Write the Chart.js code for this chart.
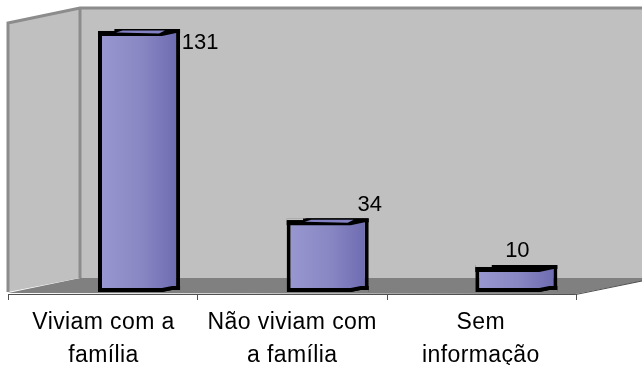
<!DOCTYPE html>
<html>
<head>
<meta charset="utf-8">
<title>Situação familiar</title>
<script src="https://cdn.jsdelivr.net/npm/chart.js@4"></script>
<style>
  html, body { margin: 0; padding: 0; background: #fff; }
  canvas { display: block; }
</style>
</head>
<body>
<canvas id="chart1" width="642" height="365"></canvas>
<script>
var categorias = [['Viviam com a', 'família'], ['Não viviam com', 'a família'], ['Sem', 'informação']]
var valores = [131, 34, 10]

// a caixa 3D fica deslocada em relacao ao plano da frente
var profundidade = 35.5
var fundoEixo = -3.85
var labelDx = [61, 42, 1]
var labelDy = [14, -13, -14]

const caixa3d = {
  id: 'caixa3d',
  beforeDraw(chart) {
    chart.ctx.letterSpacing = '0.4px'
  },
  beforeDatasetsDraw(chart) {
    const ctx = chart.ctx
    const fundoX = 80, frenteX = 8
    const topo = 8, chao = 278, frente = 293
    const passo = 189.3
    const fimX = frenteX + passo * valores.length

    ctx.save()
    // chao
    ctx.fillStyle = '#808080'
    ctx.beginPath()
    ctx.moveTo(frenteX, frente)
    ctx.lineTo(fundoX, chao)
    ctx.lineTo(642, chao)
    ctx.lineTo(642, 281)
    ctx.lineTo(fimX, frente + 1)
    ctx.closePath()
    ctx.fill()

    // parede do fundo e parede lateral
    ctx.fillStyle = '#c0c0c0'
    ctx.fillRect(fundoX, topo, 642 - fundoX, chao - topo)
    ctx.beginPath()
    ctx.moveTo(frenteX, 23)
    ctx.lineTo(fundoX, topo)
    ctx.lineTo(fundoX, chao)
    ctx.lineTo(frenteX, frente - 1)
    ctx.closePath()
    ctx.fill()

    ctx.strokeStyle = '#8c8c8c'
    ctx.lineWidth = 3
    ctx.beginPath()
    ctx.moveTo(frenteX, frente - 1)
    ctx.lineTo(frenteX, 23)
    ctx.lineTo(fundoX, topo)
    ctx.lineTo(642, topo)
    ctx.moveTo(fundoX, topo)
    ctx.lineTo(fundoX, chao)
    ctx.stroke()

    // eixo da frente com os tracos
    ctx.strokeStyle = '#505050'
    ctx.lineWidth = 1
    ctx.beginPath()
    ctx.moveTo(frenteX, frente + 1.5)
    ctx.lineTo(fimX, frente + 1.5)
    ctx.lineTo(642, 281)
    for (var i = 0; i <= valores.length; i++) {
      const x = Math.round(frenteX + passo * i) + 0.5
      ctx.moveTo(x, frente + 1)
      ctx.lineTo(x, frente + 7)
    }
    ctx.stroke()
    ctx.restore()
  },
  afterDatasetsDraw(chart) {
    const ctx = chart.ctx
    const barras = chart.getDatasetMeta(0).data
    ctx.save()
    barras.forEach(function (b, i) {
      const w = b.width
      const esq = b.x - w / 2
      const dir = b.x + w / 2
      const corte = esq + w * 0.78

      // degrau no canto de cima, a esquerda da tampa
      ctx.fillStyle = '#c0c0c0'
      ctx.fillRect(esq, b.y, w * 0.2, 2)

      // faixa preta da tampa, que sobe para a direita
      ctx.fillStyle = '#000'
      ctx.beginPath()
      ctx.moveTo(esq, b.y + 2)
      ctx.lineTo(esq + w * 0.2, b.y + 2)
      ctx.lineTo(esq + w * 0.24, b.y)
      ctx.lineTo(dir, b.y)
      ctx.lineTo(dir, b.y + 4)
      ctx.lineTo(corte + 14, b.y + 4)
      ctx.lineTo(corte, b.y + 7)
      ctx.lineTo(esq, b.y + 7)
      ctx.closePath()
      ctx.fill()

      // tampa so aparece nas barras maiores
      if (valores[i] > 20) {
        ctx.fillStyle = '#8482c4'
        ctx.beginPath()
        ctx.moveTo(esq + w * 0.22, b.y + 3.5)
        ctx.lineTo(esq + w * 0.3, b.y + 1.5)
        ctx.lineTo(corte + 3, b.y + 1.5)
        ctx.lineTo(corte - 3, b.y + 4.5)
        ctx.closePath()
        ctx.fill()
      }

      // recorte embaixo, a direita
      ctx.fillStyle = '#808080'
      ctx.beginPath()
      ctx.moveTo(corte, b.base)
      ctx.lineTo(corte + 10, b.base - 2)
      ctx.lineTo(dir, b.base - 2)
      ctx.lineTo(dir, b.base)
      ctx.closePath()
      ctx.fill()
      ctx.fillStyle = '#000'
      ctx.beginPath()
      ctx.moveTo(corte, b.base - 4)
      ctx.lineTo(corte + 10, b.base - 6)
      ctx.lineTo(dir, b.base - 6)
      ctx.lineTo(dir, b.base - 2)
      ctx.lineTo(corte + 10, b.base - 2)
      ctx.lineTo(corte, b.base)
      ctx.closePath()
      ctx.fill()

      // rotulo do valor
      ctx.fillStyle = '#000'
      ctx.font = '22px "Liberation Sans", Arial, sans-serif'
      ctx.letterSpacing = '0px'
      ctx.textAlign = 'center'
      ctx.textBaseline = 'middle'
      ctx.fillText(String(valores[i]), b.x + labelDx[i], b.y + labelDy[i])
    })
    ctx.restore()
    ctx.letterSpacing = '0.4px'
  }
}

function corBarra(context) {
  const chart = context.chart
  const x = chart.scales.x
  if (!chart.chartArea || !x) return '#8886c4'
  const centro = x.getPixelForValue(context.dataIndex)
  const g = chart.ctx.createLinearGradient(centro - 41, 0, centro + 41, 0)
  g.addColorStop(0, '#9a98d2')
  g.addColorStop(0.5, '#8a88c4')
  g.addColorStop(1, '#6c6ab0')
  return g
}

const data = {
  labels: categorias,
  datasets: [{
    data: valores,
    base: fundoEixo,
    backgroundColor: corBarra,
    borderColor: '#000',
    borderWidth: 4,
    borderSkipped: false,
    categoryPercentage: 1,
    barPercentage: 0.435
  }]
}

const config = {
  type: 'bar',
  data,
  options: {
    responsive: false,
    animation: false,
    layout: { padding: { left: 44.7, right: 31.3, top: 8, bottom: 0 } },
    plugins: { legend: { display: false }, tooltip: { enabled: false } },
    scales: {
      x: {
        grid: { display: false, drawTicks: false },
        border: { display: false },
        afterFit(scale) { scale.height = 73 },
        ticks: {
          autoSkip: false,
          maxRotation: 0,
          minRotation: 0,
          padding: 15,
          labelOffset: -profundidade,
          color: '#000',
          font: { family: '"Liberation Sans", Arial, sans-serif', size: 23, lineHeight: 1.4 }
        }
      },
      y: {
        display: false,
        min: fundoEixo,
        max: 141.75
      }
    }
  },
  plugins: [caixa3d]
}

const myChart = new Chart(document.getElementById('chart1'), config)
</script>
</body>
</html>
